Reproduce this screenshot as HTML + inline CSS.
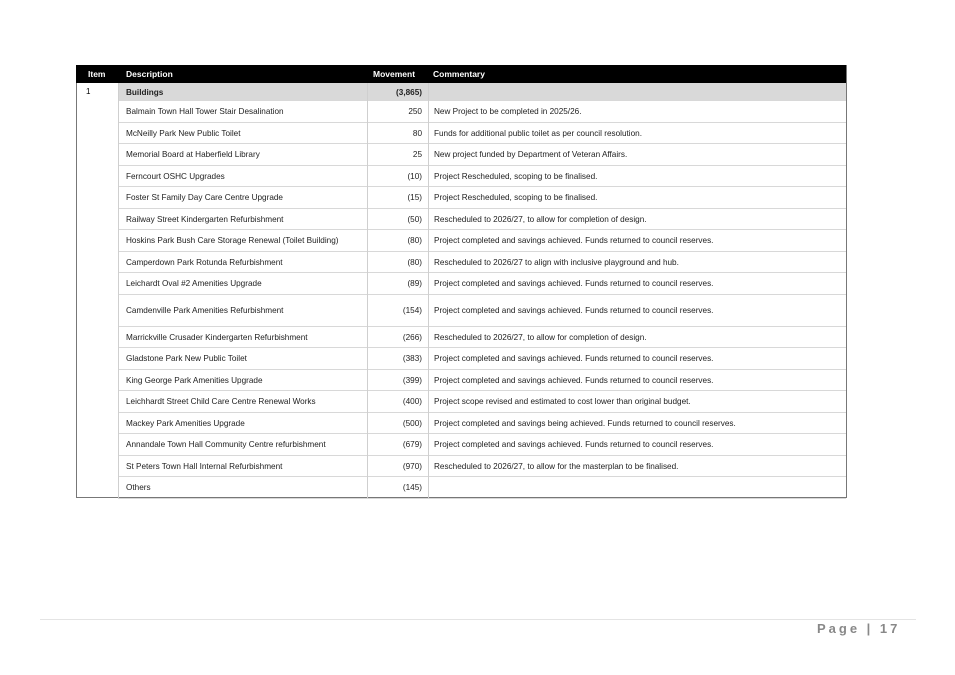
<!DOCTYPE html>
<html><head><style>
body{margin:0;width:955px;height:675px;background:#fff;position:relative;font-family:"Liberation Sans",sans-serif;overflow:hidden}
.t{position:absolute;left:76px;top:65px;width:769px;height:432px;border:1px solid #777;border-top:none;box-sizing:content-box}
.hd{position:absolute;left:76px;top:65px;width:770px;height:18px;background:#000;color:#fff;font-weight:bold;font-size:8.5px}
.hd span{position:absolute;top:4px}
.r{position:absolute;left:118px;width:728px;border-bottom:1px solid #d8d8d8;font-size:8.2px;color:#222;white-space:nowrap}
.r span{position:absolute}
.d{left:8px}.c{left:316px}
.vl{position:absolute;top:83px;width:1px;height:415px;background:#cfcfcf;z-index:5}
</style></head><body>
<div class="t"></div>
<div class="hd"><span style="left:12px">Item</span><span style="left:50px">Description</span><span style="left:297px">Movement</span><span style="left:357px">Commentary</span></div>
<div style="position:absolute;left:86px;top:87px;font-size:8px">1</div>
<div class="vl" style="left:118px"></div>
<div class="vl" style="left:367px"></div>
<div class="vl" style="left:428px"></div>
<div id="rows"></div>
<div style="position:absolute;left:40px;top:619px;width:876px;height:1px;background:#e4e4e4"></div>
<div style="position:absolute;left:817px;top:621px;font-size:13px;font-weight:bold;color:#888;letter-spacing:3px">Page | 17</div>
<div class="r" style="top:83px;height:17px;background:#d9d9d9;font-weight:bold"><span class="d" style="top:5px">Buildings</span><span style="top:5px;left:240px;width:64px;text-align:right">(3,865)</span></div>
<script>
var R=[["Balmain Town Hall Tower Stair Desalination","250","New Project to be completed in 2025/26."],
["McNeilly Park New Public Toilet","80","Funds for additional public toilet as per council resolution."],
["Memorial Board at Haberfield Library","25","New project funded by Department of Veteran Affairs."],
["Ferncourt OSHC Upgrades","(10)","Project Rescheduled, scoping to be finalised."],
["Foster St Family Day Care Centre Upgrade","(15)","Project Rescheduled, scoping to be finalised."],
["Railway Street Kindergarten Refurbishment","(50)","Rescheduled to 2026/27, to allow for completion of design."],
["Hoskins Park Bush Care Storage Renewal (Toilet Building)","(80)","Project completed and savings achieved. Funds returned to council reserves."],
["Camperdown Park Rotunda Refurbishment","(80)","Rescheduled to 2026/27 to align with inclusive playground and hub."],
["Leichardt Oval #2 Amenities Upgrade","(89)","Project completed and savings achieved. Funds returned to council reserves."],
["Camdenville Park Amenities Refurbishment","(154)","Project completed and savings achieved. Funds returned to council reserves."],
["Marrickville Crusader Kindergarten Refurbishment","(266)","Rescheduled to 2026/27, to allow for completion of design."],
["Gladstone Park New Public Toilet","(383)","Project completed and savings achieved. Funds returned to council reserves."],
["King George Park Amenities Upgrade","(399)","Project completed and savings achieved. Funds returned to council reserves."],
["Leichhardt Street Child Care Centre Renewal Works","(400)","Project scope revised and estimated to cost lower than original budget."],
["Mackey Park Amenities Upgrade","(500)","Project completed and savings being achieved. Funds returned to council reserves."],
["Annandale Town Hall  Community Centre refurbishment","(679)","Project completed and savings achieved. Funds returned to council reserves."],
["St Peters Town Hall Internal Refurbishment","(970)","Rescheduled to 2026/27, to allow for the masterplan to be finalised."],
["Others","(145)",""]];
var y=101,h="";
R.forEach(function(r,i){var ht=(i==9)?32:21.5;var ty=ht/2-4.5;
h+='<div class="r" style="top:'+y+'px;height:'+(ht-1)+'px"><span class="d" style="top:'+ty+'px">'+r[0]+'</span><span style="top:'+ty+'px;left:240px;width:64px;text-align:right">'+r[1]+'</span><span class="c" style="top:'+ty+'px">'+r[2]+'</span></div>';y+=ht;});
document.getElementById('rows').innerHTML=h;
</script>
</body></html>
